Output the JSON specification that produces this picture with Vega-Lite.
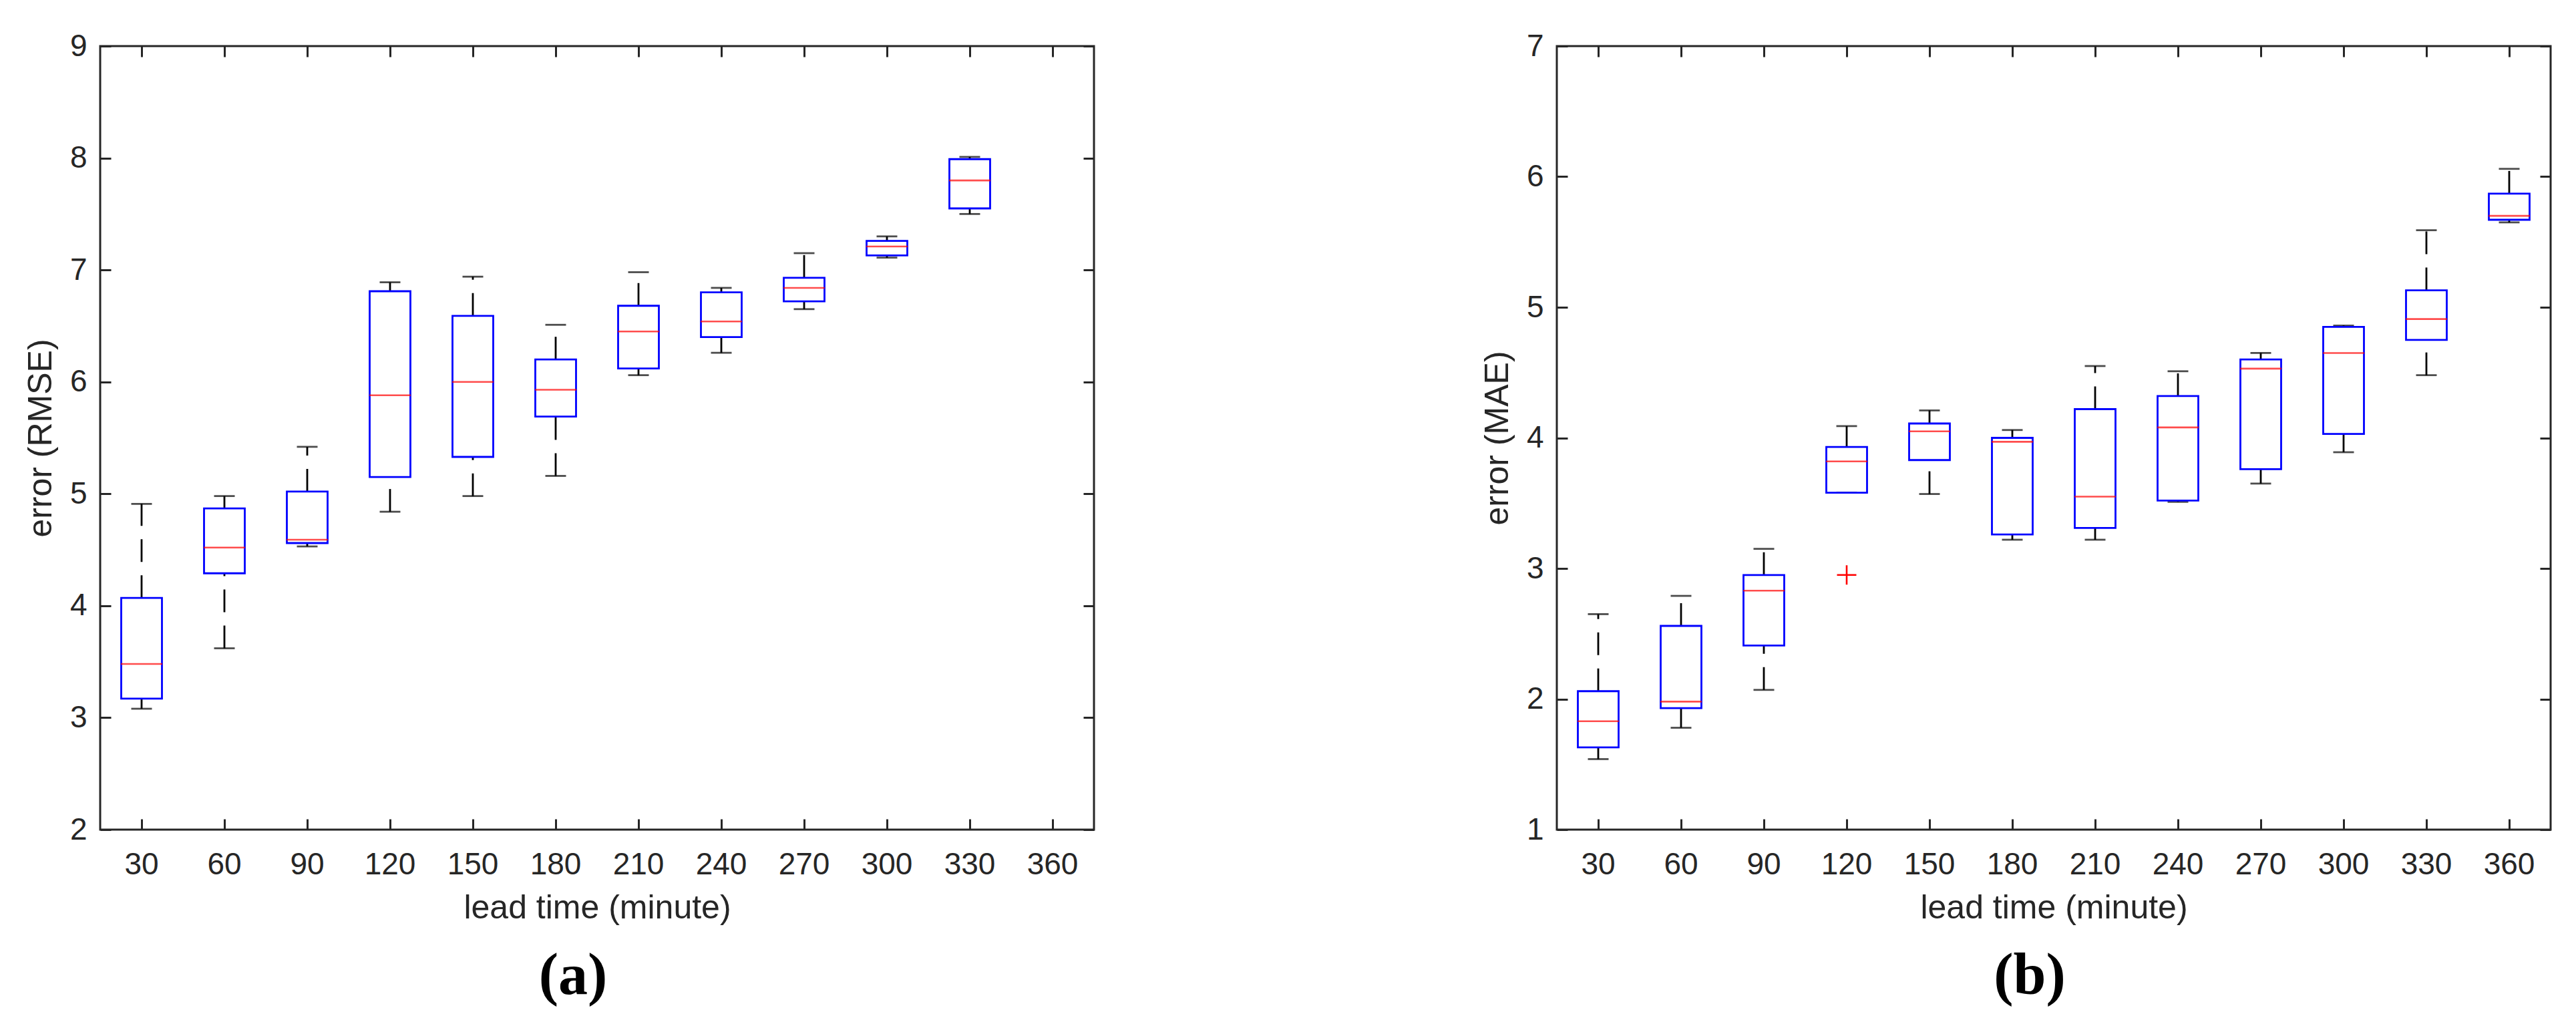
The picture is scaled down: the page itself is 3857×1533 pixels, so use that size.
{
  "$schema": "https://vega.github.io/schema/vega-lite/v6.json",
  "background": "white",
  "autosize": {"type": "pad"},
  "padding": {"left": 34, "top": 44, "right": 0, "bottom": 0},
  "bounds": "flush",
  "spacing": 693,
  "datasets": {
    "rmse": [
      {"lead": 30, "lo": 3.08, "q1": 3.17, "med": 3.48, "q3": 4.07, "hi": 4.91},
      {"lead": 60, "lo": 3.62, "q1": 4.29, "med": 4.52, "q3": 4.87, "hi": 4.98},
      {"lead": 90, "lo": 4.53, "q1": 4.56, "med": 4.59, "q3": 5.02, "hi": 5.42},
      {"lead": 120, "lo": 4.84, "q1": 5.15, "med": 5.88, "q3": 6.81, "hi": 6.89},
      {"lead": 150, "lo": 4.98, "q1": 5.33, "med": 6.00, "q3": 6.59, "hi": 6.94},
      {"lead": 180, "lo": 5.16, "q1": 5.69, "med": 5.93, "q3": 6.20, "hi": 6.51},
      {"lead": 210, "lo": 6.06, "q1": 6.12, "med": 6.45, "q3": 6.68, "hi": 6.98},
      {"lead": 240, "lo": 6.26, "q1": 6.40, "med": 6.54, "q3": 6.80, "hi": 6.84},
      {"lead": 270, "lo": 6.65, "q1": 6.72, "med": 6.84, "q3": 6.93, "hi": 7.15},
      {"lead": 300, "lo": 7.11, "q1": 7.13, "med": 7.21, "q3": 7.26, "hi": 7.30},
      {"lead": 330, "lo": 7.50, "q1": 7.55, "med": 7.80, "q3": 7.99, "hi": 8.01}
    ],
    "mae": [
      {"lead": 30, "lo": 1.54, "q1": 1.63, "med": 1.83, "q3": 2.06, "hi": 2.65},
      {"lead": 60, "lo": 1.78, "q1": 1.93, "med": 1.98, "q3": 2.56, "hi": 2.79},
      {"lead": 90, "lo": 2.07, "q1": 2.41, "med": 2.83, "q3": 2.95, "hi": 3.15},
      {"lead": 120, "lo": 3.58, "q1": 3.58, "med": 3.82, "q3": 3.93, "hi": 4.09},
      {"lead": 150, "lo": 3.57, "q1": 3.83, "med": 4.05, "q3": 4.11, "hi": 4.21},
      {"lead": 180, "lo": 3.22, "q1": 3.26, "med": 3.97, "q3": 4.00, "hi": 4.06},
      {"lead": 210, "lo": 3.22, "q1": 3.31, "med": 3.55, "q3": 4.22, "hi": 4.55},
      {"lead": 240, "lo": 3.51, "q1": 3.52, "med": 4.08, "q3": 4.32, "hi": 4.51},
      {"lead": 270, "lo": 3.65, "q1": 3.76, "med": 4.53, "q3": 4.60, "hi": 4.65},
      {"lead": 300, "lo": 3.89, "q1": 4.03, "med": 4.65, "q3": 4.85, "hi": 4.86},
      {"lead": 330, "lo": 4.48, "q1": 4.75, "med": 4.91, "q3": 5.13, "hi": 5.59},
      {"lead": 360, "lo": 5.65, "q1": 5.67, "med": 5.70, "q3": 5.87, "hi": 6.06}
    ],
    "maeOutliers": [
      {"lead": 120, "value": 2.95}
    ]
  },
  "hconcat": [
    {
      "width": 1488,
      "height": 1173,
      "title": {"text": "(a)", "orient": "bottom", "anchor": "middle", "dx": -36, "offset": 104, "baseline": "alphabetic"},
      "data": {"name": "rmse"},
      "resolve": {"axis": {"x": "independent", "y": "independent"}},
      "layer": [
        {
          "mark": {"type": "rule", "color": "#000000", "strokeWidth": 2.8, "strokeDash": [34, 20]},
          "encoding": {
            "x": {"field": "lead", "type": "ordinal", "scale": {"domain": [30, 60, 90, 120, 150, 180, 210, 240, 270, 300, 330, 360], "paddingInner": 0, "paddingOuter": 0}, "axis": {"orient": "bottom", "title": "lead time (minute)"}},
            "y": {"field": "q3", "type": "quantitative", "scale": {"domain": [2, 9], "nice": false, "zero": false}, "axis": {"orient": "left", "title": "error (RMSE)", "values": [2, 3, 4, 5, 6, 7, 8, 9]}},
            "y2": {"field": "hi"}
          }
        },
        {
          "mark": {"type": "rule", "color": "#000000", "strokeWidth": 2.8, "strokeDash": [34, 20]},
          "encoding": {
            "x": {"field": "lead", "type": "ordinal", "axis": null},
            "y": {"field": "lo", "type": "quantitative", "axis": null},
            "y2": {"field": "q1"}
          }
        },
        {
          "mark": {"type": "tick", "color": "#000000", "size": 31, "thickness": 2.8},
          "encoding": {
            "x": {"field": "lead", "type": "ordinal", "axis": null},
            "y": {"field": "hi", "type": "quantitative", "axis": null}
          }
        },
        {
          "mark": {"type": "tick", "color": "#000000", "size": 31, "thickness": 2.8},
          "encoding": {
            "x": {"field": "lead", "type": "ordinal", "axis": null},
            "y": {"field": "lo", "type": "quantitative", "axis": null}
          }
        },
        {
          "mark": {"type": "bar", "filled": false, "stroke": "#0000ff", "strokeWidth": 2.8, "size": 61},
          "encoding": {
            "x": {"field": "lead", "type": "ordinal", "axis": null},
            "y": {"field": "q1", "type": "quantitative", "axis": null},
            "y2": {"field": "q3"}
          }
        },
        {
          "mark": {"type": "tick", "color": "#ff0000", "size": 62, "thickness": 2.6},
          "encoding": {
            "x": {"field": "lead", "type": "ordinal", "axis": {"orient": "top", "labels": false, "title": null}},
            "y": {"field": "med", "type": "quantitative", "axis": {"orient": "right", "labels": false, "title": null, "values": [2, 3, 4, 5, 6, 7, 8, 9]}}
          }
        }
      ]
    },
    {
      "width": 1488,
      "height": 1173,
      "title": {"text": "(b)", "orient": "bottom", "anchor": "middle", "dx": -36, "offset": 104, "baseline": "alphabetic"},
      "resolve": {"axis": {"x": "independent", "y": "independent"}},
      "layer": [
        {
          "data": {"name": "mae"},
          "mark": {"type": "rule", "color": "#000000", "strokeWidth": 2.8, "strokeDash": [34, 20]},
          "encoding": {
            "x": {"field": "lead", "type": "ordinal", "scale": {"domain": [30, 60, 90, 120, 150, 180, 210, 240, 270, 300, 330, 360], "paddingInner": 0, "paddingOuter": 0}, "axis": {"orient": "bottom", "title": "lead time (minute)"}},
            "y": {"field": "q3", "type": "quantitative", "scale": {"domain": [1, 7], "nice": false, "zero": false}, "axis": {"orient": "left", "title": "error (MAE)", "values": [1, 2, 3, 4, 5, 6, 7]}},
            "y2": {"field": "hi"}
          }
        },
        {
          "data": {"name": "mae"},
          "mark": {"type": "rule", "color": "#000000", "strokeWidth": 2.8, "strokeDash": [34, 20]},
          "encoding": {
            "x": {"field": "lead", "type": "ordinal", "axis": null},
            "y": {"field": "lo", "type": "quantitative", "axis": null},
            "y2": {"field": "q1"}
          }
        },
        {
          "data": {"name": "mae"},
          "mark": {"type": "tick", "color": "#000000", "size": 31, "thickness": 2.8},
          "encoding": {
            "x": {"field": "lead", "type": "ordinal", "axis": null},
            "y": {"field": "hi", "type": "quantitative", "axis": null}
          }
        },
        {
          "data": {"name": "mae"},
          "mark": {"type": "tick", "color": "#000000", "size": 31, "thickness": 2.8},
          "encoding": {
            "x": {"field": "lead", "type": "ordinal", "axis": null},
            "y": {"field": "lo", "type": "quantitative", "axis": null}
          }
        },
        {
          "data": {"name": "mae"},
          "mark": {"type": "bar", "filled": false, "stroke": "#0000ff", "strokeWidth": 2.8, "size": 61},
          "encoding": {
            "x": {"field": "lead", "type": "ordinal", "axis": null},
            "y": {"field": "q1", "type": "quantitative", "axis": null},
            "y2": {"field": "q3"}
          }
        },
        {
          "data": {"name": "mae"},
          "mark": {"type": "tick", "color": "#ff0000", "size": 62, "thickness": 2.6},
          "encoding": {
            "x": {"field": "lead", "type": "ordinal", "axis": {"orient": "top", "labels": false, "title": null}},
            "y": {"field": "med", "type": "quantitative", "axis": {"orient": "right", "labels": false, "title": null, "values": [1, 2, 3, 4, 5, 6, 7]}}
          }
        },
        {
          "data": {"name": "maeOutliers"},
          "mark": {"type": "point", "shape": "M-1,0L1,0M0,-1L0,1", "size": 840, "filled": false, "stroke": "#ff0000", "strokeWidth": 2.6, "opacity": 1},
          "encoding": {
            "x": {"field": "lead", "type": "ordinal", "axis": null},
            "y": {"field": "value", "type": "quantitative", "axis": null}
          }
        }
      ]
    }
  ],
  "config": {
    "font": "Liberation Sans",
    "view": {"stroke": "#262626", "strokeWidth": 3},
    "axis": {
      "domain": false,
      "grid": false,
      "ticks": true,
      "tickSize": -16,
      "tickWidth": 3,
      "tickColor": "#262626",
      "labelFont": "Liberation Sans",
      "labelFontSize": 46,
      "labelColor": "#262626",
      "labelFlush": false,
      "labelOverlap": false,
      "labelBound": false,
      "titleFont": "Liberation Sans",
      "titleFontSize": 50,
      "titleFontWeight": "normal",
      "titleColor": "#262626"
    },
    "axisX": {"labelPadding": 46, "titlePadding": 17, "labelAngle": 0, "bandPosition": 0.5},
    "axisY": {"labelPadding": 36, "titlePadding": 18},
    "title": {"font": "Liberation Serif", "fontSize": 88, "fontWeight": "bold", "color": "#000000"}
  }
}
